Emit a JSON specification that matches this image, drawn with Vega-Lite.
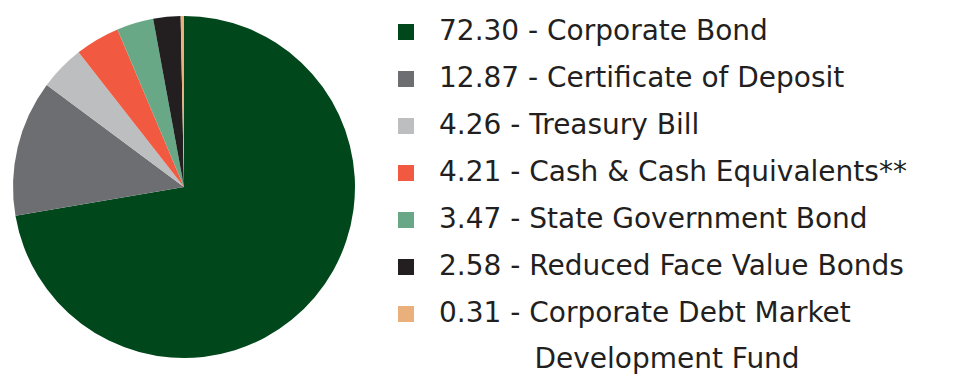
{
  "$schema": "https://vega.github.io/schema/vega-lite/v6.json",
  "autosize": {"type": "none"},
  "width": 342,
  "height": 342,
  "padding": {"left": 13, "top": 16, "right": 598, "bottom": 23},
  "background": "white",
  "data": {
    "values": [
      {"order": 1, "label": "72.30 - Corporate Bond", "value": 72.30},
      {"order": 2, "label": "12.87 - Certificate of Deposit", "value": 12.87},
      {"order": 3, "label": "4.26 - Treasury Bill", "value": 4.26},
      {"order": 4, "label": "4.21 - Cash & Cash Equivalents**", "value": 4.21},
      {"order": 5, "label": "3.47 - State Government Bond", "value": 3.47},
      {"order": 6, "label": "2.58 - Reduced Face Value Bonds", "value": 2.58},
      {"order": 7, "label": "0.31 - Corporate Debt Market", "value": 0.31}
    ]
  },
  "mark": {"type": "arc", "outerRadius": 171, "stroke": null},
  "encoding": {
    "theta": {"field": "value", "type": "quantitative", "stack": true},
    "order": {"field": "order", "type": "quantitative"},
    "color": {
      "field": "label",
      "type": "nominal",
      "scale": {
        "domain": [
          "72.30 - Corporate Bond",
          "12.87 - Certificate of Deposit",
          "4.26 - Treasury Bill",
          "4.21 - Cash & Cash Equivalents**",
          "3.47 - State Government Bond",
          "2.58 - Reduced Face Value Bonds",
          "0.31 - Corporate Debt Market"
        ],
        "range": ["#00471b", "#6d6e71", "#bcbec0", "#f15a40", "#69a886", "#231f20", "#e9b07b"]
      },
      "legend": {
        "orient": "none",
        "legendX": 379,
        "legendY": 2,
        "title": "\u200b\u00a0\u00a0\u00a0\u00a0\u00a0\u00a0\u00a0\u00a0\u00a0\u00a0\u00a0\u00a0\u00a0\u00a0\u00a0\u00a0Development Fund",
        "titleOrient": "bottom",
        "titleAnchor": "start",
        "titleFontSize": 28,
        "titleFontWeight": "normal",
        "titleFont": "DejaVu Sans",
        "titleColor": "#231f20",
        "titlePadding": 18,
        "titleLimit": 600,
        "symbolType": "square",
        "symbolSize": 256,
        "symbolStrokeWidth": 0,
        "labelFont": "DejaVu Sans",
        "labelFontSize": 28,
        "labelColor": "#231f20",
        "labelLimit": 600,
        "labelOffset": 19,
        "rowPadding": 19,
        "padding": 0
      }
    }
  },
  "config": {"view": {"stroke": null}}
}
